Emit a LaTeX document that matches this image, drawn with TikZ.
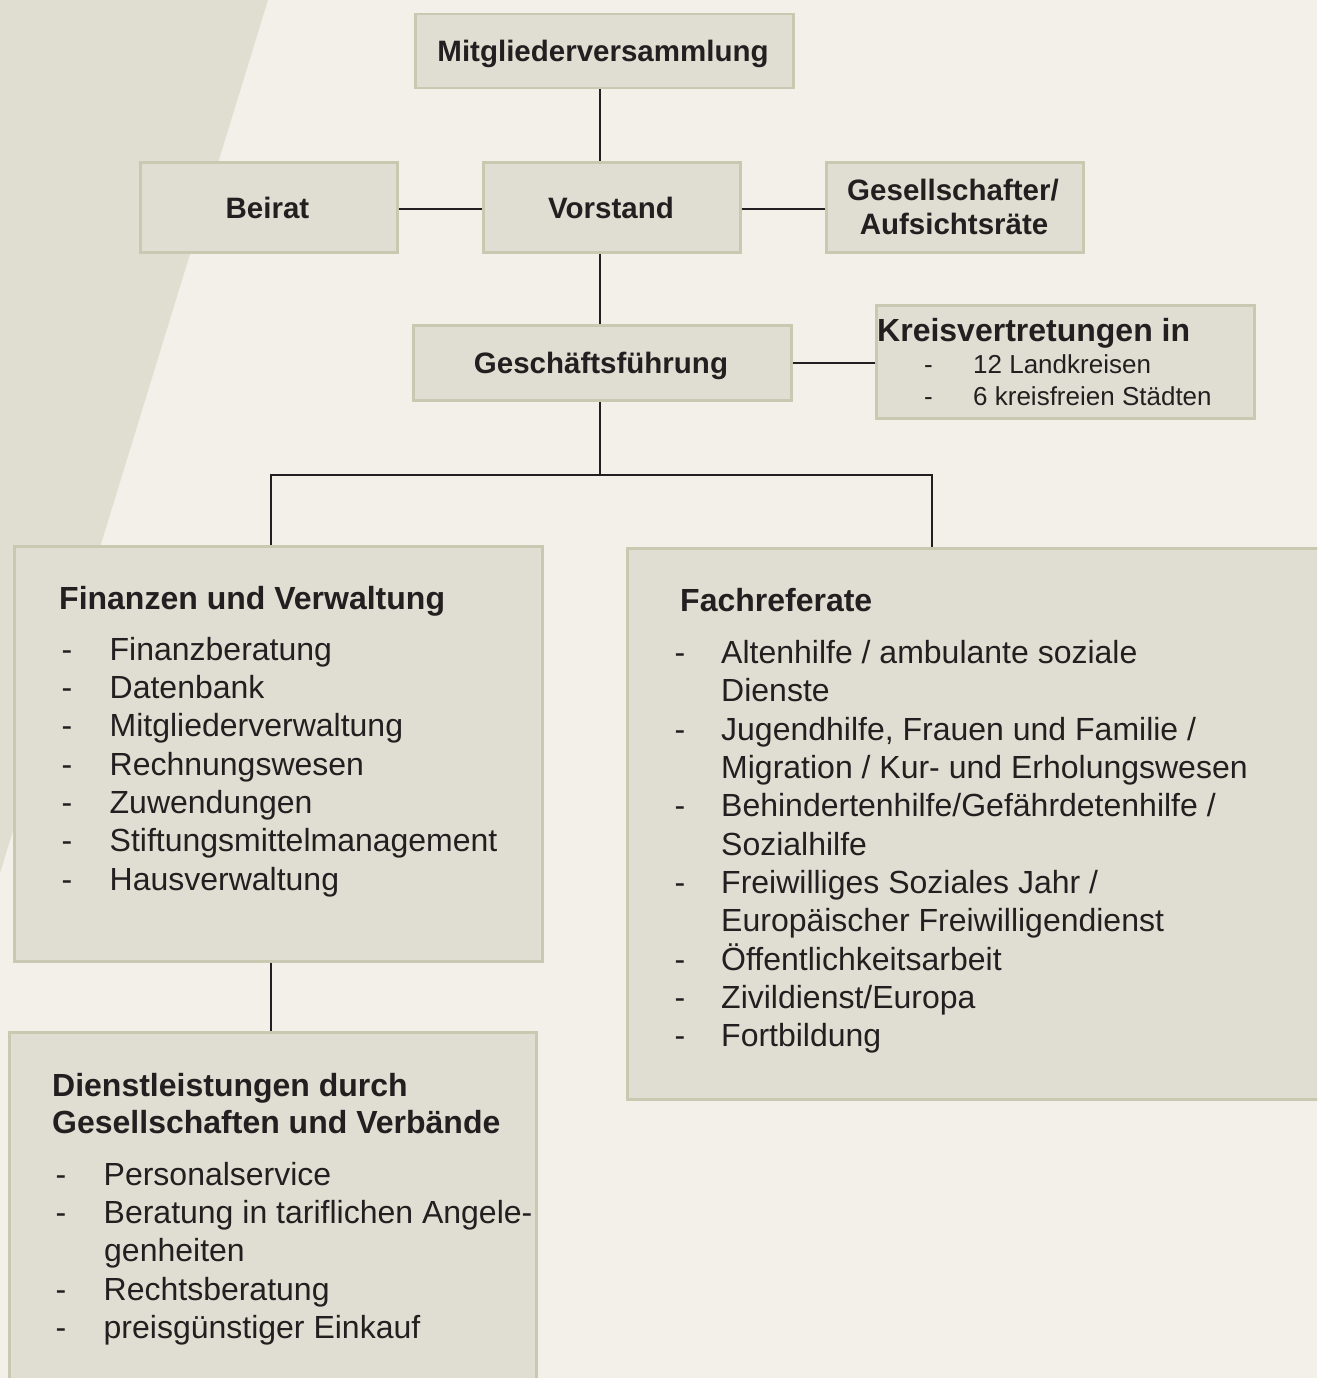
\documentclass[tikz,border=0pt]{standalone}
\usepackage{fontspec}
\setmainfont{Liberation Sans}
\definecolor{bg}{HTML}{F2F0E9}
\definecolor{band}{HTML}{E0DED1}
\definecolor{boxfill}{HTML}{E0DED2}
\definecolor{boxline}{HTML}{C9C8B0}
\definecolor{ink}{HTML}{231F20}
\newcommand{\dashitem}[2][48pt]{\makebox[#1][l]{-}#2}
\tikzset{
  box/.style={draw=boxline, fill=boxfill, line width=2.5pt, rectangle, inner sep=0pt, anchor=north west},
  ttl/.style={anchor=base, inner sep=0pt, text=ink, font=\bfseries\fontsize{29.5}{34}\selectfont},
  bigttl/.style={anchor=base west, inner sep=0pt, text=ink, font=\bfseries\fontsize{32}{37}\selectfont},
  item/.style={anchor=base west, inner sep=0pt, text=ink, font=\fontsize{32}{38}\selectfont},
  smallitem/.style={anchor=base west, inner sep=0pt, text=ink, font=\fontsize{26}{31}\selectfont},
  conn/.style={draw=ink, line width=2.2pt},
}
\begin{document}
\begin{tikzpicture}[x=1pt, y=-1pt]
\path[use as bounding box] (0,0) rectangle (1317,1378);
\clip (0,0) rectangle (1317,1378);
\fill[bg] (0,0) rectangle (1317,1378);
\fill[band] (0,0) -- (268,0) -- (0,873) -- cycle;

% boxes
\node[box, minimum width=378, minimum height=74] (mv) at (414,13) {};
\node[box, minimum width=257, minimum height=90] (br) at (139,161) {};
\node[box, minimum width=257, minimum height=90] (vs) at (482,161) {};
\node[box, minimum width=257, minimum height=90] (gs) at (825,161) {};
\node[box, minimum width=378, minimum height=75] (gf) at (412,324) {};
\node[box, minimum width=378, minimum height=113] (kv) at (875,304) {};
\node[box, minimum width=528, minimum height=415] (fv) at (13,545) {};
\node[box, minimum width=720, minimum height=551] (fr) at (626,547) {};
\node[box, minimum width=527, minimum height=400] (dl) at (8,1031) {};

% small box titles
\node[ttl] (mv-t) at (603,62) {Mitgliederversammlung};
\node[ttl] (br-t) at (267.5,218) {Beirat};
\node[ttl] (vs-t) at (611,218) {Vorstand};
\node[ttl] (gs-t1) at (953,200) {Gesellschafter/};
\node[ttl] (gs-t2) at (954,234) {Aufsichtsräte};
\node[ttl] (gf-t) at (601,373) {Geschäftsführung};

% Kreisvertretungen
\node[bigttl] (kv-t) at (877,341.7) {Kreisvertretungen in};
\node[smallitem] (kv-1) at (924,373.3) {\dashitem[49pt]{12 Landkreisen}};
\node[smallitem] (kv-2) at (924,405) {\dashitem[49pt]{6 kreisfreien Städten}};

% Finanzen und Verwaltung
\node[bigttl] (fv-t) at (59,609) {Finanzen und Verwaltung};
\node[item] (fv-1) at (61.5,660) {\dashitem{Finanzberatung}};
\node[item] (fv-2) at (61.5,698.3) {\dashitem{Datenbank}};
\node[item] (fv-3) at (61.5,736.7) {\dashitem{Mitgliederverwaltung}};
\node[item] (fv-4) at (61.5,775) {\dashitem{Rechnungswesen}};
\node[item] (fv-5) at (61.5,813.3) {\dashitem{Zuwendungen}};
\node[item] (fv-6) at (61.5,851.7) {\dashitem{Stiftungsmittelmanagement}};
\node[item] (fv-7) at (61.5,890) {\dashitem{Hausverwaltung}};

% Fachreferate
\node[bigttl] (fr-t) at (680,611.7) {Fachreferate};
\node[item] (fr-1) at (674.5,663.3) {\dashitem[46.5pt]{Altenhilfe / ambulante soziale}};
\node[item] (fr-1b) at (721,701.7) {Dienste};
\node[item] (fr-2) at (674.5,740) {\dashitem[46.5pt]{Jugendhilfe, Frauen und Familie /}};
\node[item] (fr-2b) at (721,778.3) {Migration / Kur- und Erholungswesen};
\node[item] (fr-3) at (674.5,816.7) {\dashitem[46.5pt]{Behindertenhilfe/Gefährdetenhilfe /}};
\node[item] (fr-3b) at (721,855) {Sozialhilfe};
\node[item] (fr-4) at (674.5,893.3) {\dashitem[46.5pt]{Freiwilliges Soziales Jahr /}};
\node[item] (fr-4b) at (721,931.7) {Europäischer Freiwilligendienst};
\node[item] (fr-5) at (674.5,970) {\dashitem[46.5pt]{Öffentlichkeitsarbeit}};
\node[item] (fr-6) at (674.5,1008.3) {\dashitem[46.5pt]{Zivildienst/Europa}};
\node[item] (fr-7) at (674.5,1046.7) {\dashitem[46.5pt]{Fortbildung}};

% Dienstleistungen
\node[bigttl] (dl-t1) at (52,1096) {Dienstleistungen durch};
\node[bigttl] (dl-t2) at (52,1133.3) {Gesellschaften und Verbände};
\node[item] (dl-1) at (55.5,1185) {\dashitem{Personalservice}};
\node[item] (dl-2) at (55.5,1223.3) {\dashitem{Beratung in tariflichen Angele-}};
\node[item] (dl-2b) at (104,1261.7) {genheiten};
\node[item] (dl-3) at (55.5,1300) {\dashitem{Rechtsberatung}};
\node[item] (dl-4) at (55.5,1338.3) {\dashitem{preisgünstiger Einkauf}};

% connectors
\coordinate (sp) at (600.3,0);
\coordinate (h1) at (0,209);
\coordinate (bus) at (0,475);
\coordinate (lx) at (270.7,0);
\coordinate (rx) at (931.7,0);
\draw[conn] (mv.south -| sp) -- (vs.north -| sp);
\draw[conn] (vs.south -| sp) -- (gf.north -| sp);
\draw[conn] (br.east |- h1) -- (vs.west |- h1);
\draw[conn] (vs.east |- h1) -- (gs.west |- h1);
\draw[conn] (gf.east) -- (gf.east -| kv.west);
\draw[conn] (gf.south -| sp) -- (bus -| sp);
\draw[conn] (fv.north -| lx) |- (bus -| sp) -| (fr.north -| rx);
\draw[conn] (fv.south -| lx) -- (dl.north -| lx);
\end{tikzpicture}
\end{document}
